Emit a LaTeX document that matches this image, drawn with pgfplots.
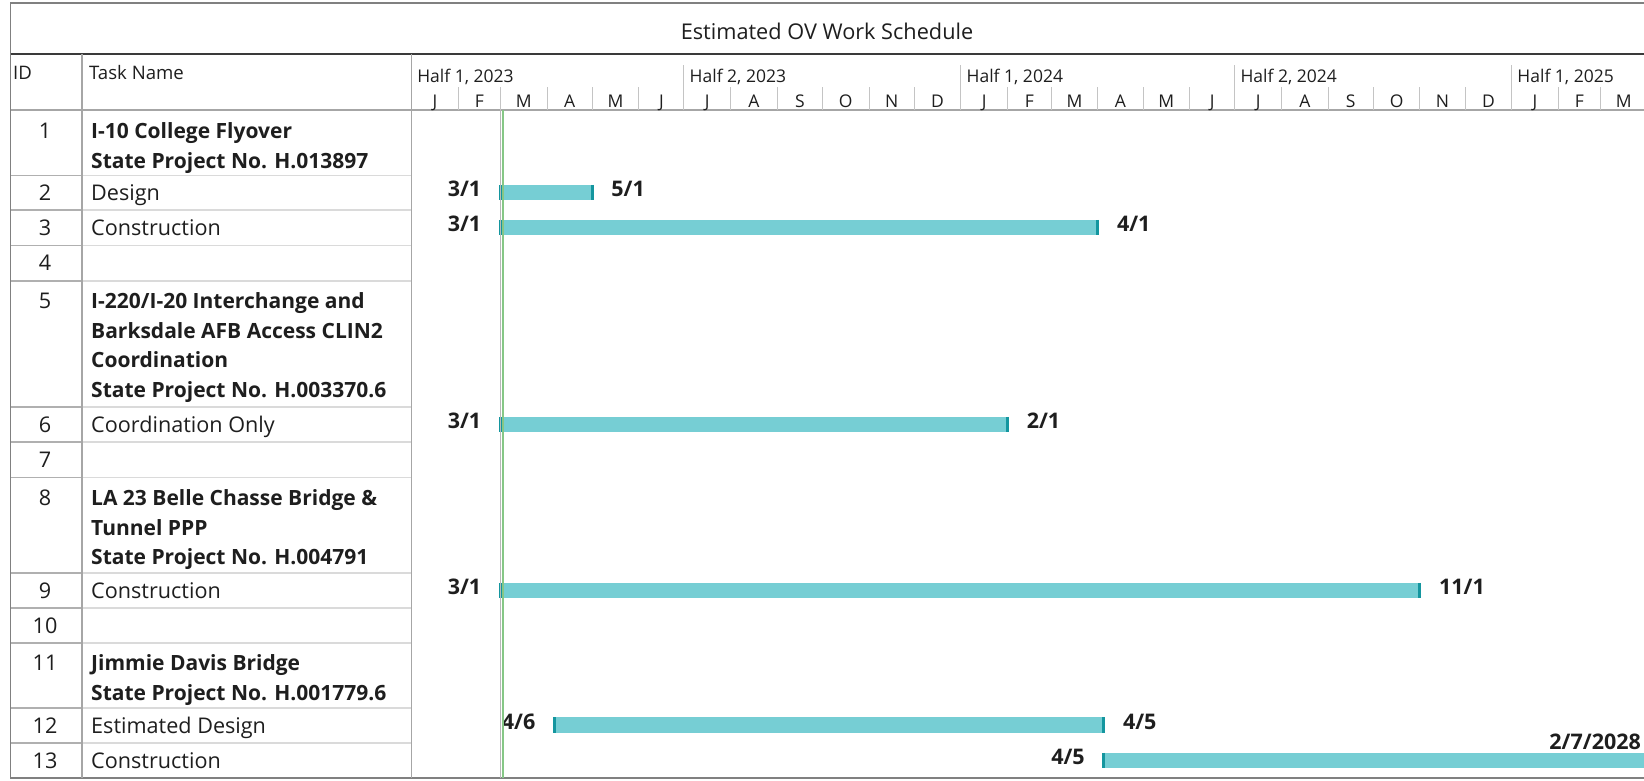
\documentclass[border=0pt]{standalone}
\usepackage{fontspec}
\setmainfont{Open Sans}
\usepackage{pgfplots}
\pgfplotsset{compat=1.18}
\definecolor{barfill}{HTML}{76CED4}
\definecolor{bardark}{HTML}{14969F}
\definecolor{todaygreen}{HTML}{86C786}
\definecolor{txt}{HTML}{1E1E1E}
\definecolor{rowline}{HTML}{DADADA}
\definecolor{idline}{HTML}{B0B0B0}
\definecolor{colline}{HTML}{A6A6A6}
\definecolor{frame}{HTML}{808080}
\definecolor{darkline}{HTML}{3A3A3A}
\definecolor{monthline}{HTML}{C4C4C4}
\tikzset{
  tbl/.style={font=\fontsize{21.6}{25}\selectfont, text=txt, inner sep=0pt},
  tblb/.style={font=\fontsize{21}{25}\selectfont\bfseries, text=txt, inner sep=0pt},
  hdr/.style={font=\fontsize{18.6}{22}\selectfont, text=txt, inner sep=0pt},
  tl/.style={font=\fontsize{17.5}{20}\selectfont, text=txt, inner sep=0pt},
  lbl/.style={font=\fontsize{21.5}{26}\selectfont\bfseries, text=txt, inner sep=0pt},
}
\begin{document}
\begin{tikzpicture}
\begin{scope}[x=1pt,y=-1pt]
\fill[white] (0,0) rectangle (1644,781);
% row separators of the task table
\foreach \yy in {175.5,210,245.5,281,407,442,477.5,573,608,643,708,743}{
  \draw[rowline, line width=1.2pt] (82,\yy) -- (411.6,\yy);
  \draw[idline, line width=1.2pt] (10.5,\yy) -- (82,\yy);
}
\draw[frame, line width=1.5pt] (1644,3) -- (10.5,3) -- (10.5,778) -- (1644,778);
\draw[darkline, line width=1.5pt] (10.5,54) -- (1644,54);
\draw[colline, line width=1.5pt] (10.5,110) -- (1644,110);
\draw[colline, line width=1.2pt] (82,54) -- (82,778);
\draw[colline, line width=1.2pt] (411.6,54) -- (411.6,778);
% title and headers
\node[anchor=mid, font=\fontsize{21.7}{26}\selectfont, text=txt, inner sep=0pt] at (827,37) {Estimated OV Work Schedule};
\node[hdr, anchor=mid west] at (13,77) {ID};
\node[hdr, anchor=mid west] at (89,77) {Task Name};
% ID column
\foreach \n/\yy in {1/136,2/198,3/233,4/268,5/306,6/429.5,7/465,8/503,9/595.5,10/630.5,11/668,12/730.5,13/765.5}{
  \node[tbl, anchor=mid] at (45,\yy) {\n};
}
% task names
\node[tblb, anchor=mid west] at (91,136) {I-10 College Flyover};
\node[tblb, anchor=mid west] at (91,165.5) {State Project No. H.013897};
\node[tbl, anchor=mid west] at (91,198) {Design};
\node[tbl, anchor=mid west] at (91,233) {Construction};
\node[tblb, anchor=mid west] at (91,306) {I-220/I-20 Interchange and};
\node[tblb, anchor=mid west] at (91,335.5) {Barksdale AFB Access CLIN2};
\node[tblb, anchor=mid west] at (91,365) {Coordination};
\node[tblb, anchor=mid west] at (91,394.5) {State Project No. H.003370.6};
\node[tbl, anchor=mid west] at (91,429.5) {Coordination Only};
\node[tblb, anchor=mid west] at (91,503) {LA 23 Belle Chasse Bridge \&};
\node[tblb, anchor=mid west] at (91,532.5) {Tunnel PPP};
\node[tblb, anchor=mid west] at (91,562) {State Project No. H.004791};
\node[tbl, anchor=mid west] at (91,595.5) {Construction};
\node[tblb, anchor=mid west] at (91,668) {Jimmie Davis Bridge};
\node[tblb, anchor=mid west] at (91,697.5) {State Project No. H.001779.6};
\node[tbl, anchor=mid west] at (91,730.5) {Estimated Design};
\node[tbl, anchor=mid west] at (91,765.5) {Construction};
\end{scope}

\begin{axis}[
  at={(1027.8pt,-444pt)}, anchor=center,
  scale only axis, width=1232.4pt, height=668pt,
  xmin=0, xmax=818.9, ymin=110, ymax=778, y dir=reverse,
  axis lines=none, clip mode=individual,
]
% timescale (days from 1 Jan 2023)
\pgfplotsinvokeforeach{31,59,90,120,151,212,243,273,304,334,396,425,456,486,517,578,609,639,670,700,762,790}{
  \draw[monthline, line width=1pt] (axis cs:#1,87) -- (axis cs:#1,110);
}
\pgfplotsinvokeforeach{181,365,547,731}{
  \draw[monthline, line width=1pt] (axis cs:#1,65) -- (axis cs:#1,110);
}
\foreach \d/\m in {15.5/J,45/F,74.5/M,105/A,135.5/M,166/J,196.5/J,227.5/A,258/S,288.5/O,319/N,349.5/D,380.5/J,410.5/F,440.5/M,471/A,501.5/M,532/J,562.5/J,593.5/A,624/S,654.5/O,685/N,715.5/D,746.5/J,776/F,805.5/M}{
  \edef\tmp{\noexpand\node[tl, anchor=mid] at (axis cs:\d,105) {\m};}\tmp
}
\foreach \d/\h in {0/{Half 1, 2023},181/{Half 2, 2023},365/{Half 1, 2024},547/{Half 2, 2024},731/{Half 1, 2025}}{
  \edef\tmp{\noexpand\node[tl, anchor=mid west, xshift=5.5pt] at (axis cs:\d,80) {\h};}\tmp
}
% task bars
\pgfplotsset{bar/.style={barfill, line width=15.5pt, mark=|, mark size=7.75pt, mark options={solid, draw=bardark, line width=3pt}}}
\addplot[bar] coordinates {(59,192.5) (120,192.5)};
\addplot[bar] coordinates {(59,227.5) (456,227.5)};
\addplot[bar] coordinates {(59,424.5) (396,424.5)};
\addplot[bar] coordinates {(59,590.5) (670,590.5)};
\addplot[bar] coordinates {(95,725) (460,725)};
\addplot[bar, mark indices={1}] coordinates {(460,760.5) (1863,760.5)};
% date labels
\node[lbl, anchor=mid east, xshift=-19pt] at (axis cs:59,193.5) {3/1};
\node[lbl, anchor=mid west, xshift=19pt] at (axis cs:120,193.5) {5/1};
\node[lbl, anchor=mid east, xshift=-19pt] at (axis cs:59,228.5) {3/1};
\node[lbl, anchor=mid west, xshift=19pt] at (axis cs:456,228.5) {4/1};
\node[lbl, anchor=mid east, xshift=-19pt] at (axis cs:59,425.5) {3/1};
\node[lbl, anchor=mid west, xshift=19pt] at (axis cs:396,425.5) {2/1};
\node[lbl, anchor=mid east, xshift=-19pt] at (axis cs:59,591.5) {3/1};
\node[lbl, anchor=mid west, xshift=19pt] at (axis cs:670,591.5) {11/1};
\node[lbl, anchor=mid east, xshift=-19pt] at (axis cs:95,726.5) {4/6};
\node[lbl, anchor=mid west, xshift=19pt] at (axis cs:460,726.5) {4/5};
\node[lbl, anchor=mid east, xshift=-19pt] at (axis cs:460,761.5) {4/5};
\node[lbl, anchor=mid east, xshift=-3pt] at (axis cs:818.9,747) {2/7/2028};
% status lines
\addplot[monthline!120, line width=1.5pt] coordinates {(59,110) (59,778)};
\addplot[todaygreen, line width=2pt] coordinates {(60.6,110) (60.6,778)};
\end{axis}
\pgfresetboundingbox
\useasboundingbox (0,0) rectangle (1644pt,-781pt);
\end{tikzpicture}
\end{document}
